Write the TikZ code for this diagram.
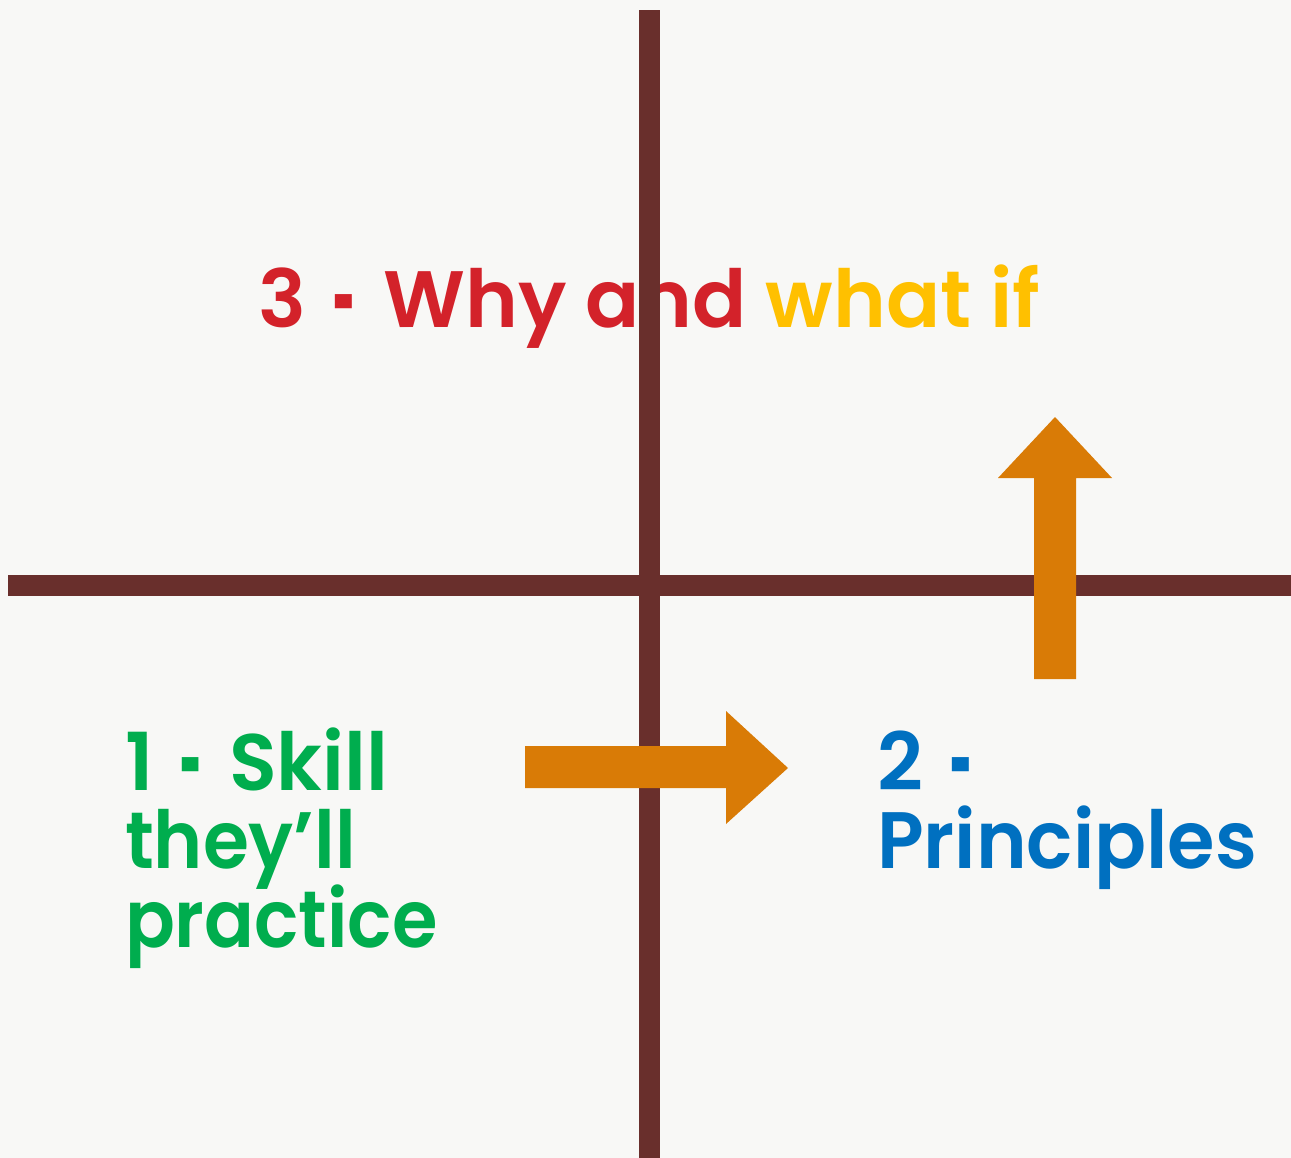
\documentclass[tikz,border=0pt]{standalone}
\usepackage{fontspec}
\setmainfont{Poppins}[BoldFont={Poppins SemiBold}]
\definecolor{paper}{HTML}{F8F8F6}
\definecolor{axis}{HTML}{692F2C}
\definecolor{flow}{HTML}{D97B06}
\definecolor{why}{HTML}{D3222A}
\definecolor{whatif}{HTML}{FFC000}
\definecolor{skill}{HTML}{00AD4E}
\definecolor{principle}{HTML}{0070C0}
% short square hyphen used between number and words, with wide gaps
\newcommand\shortdash{\raisebox{-17pt}{\scalebox{0.5}[1.5]{-}}}
\newcommand\numdash[1]{#1\hspace{27pt}\shortdash\hspace{27pt}}
\newcommand\narrow[2]{\scalebox{#1}[1]{#2}}
\begin{document}
\begin{tikzpicture}[x=1pt,y=-1pt,
  label/.style={anchor=base west, inner sep=0pt, outer sep=0pt,
    font=\fontsize{80}{78}\selectfont\bfseries},
  axisbar/.style={fill=axis},
  flowarrow/.style={fill=flow}]
  % background
  \fill[paper] (0,0) rectangle (1291,1158);
  % top quadrant title (sits under the axis)
  \node[label] (title) at (258,328)
    {\textcolor{why}{\numdash{3}Why and} \textcolor{whatif}{what if}};
  % axes
  \fill[axisbar] (639,10) rectangle (660,1158);
  \fill[axisbar] (8,575) rectangle (1291,596);
  % block arrows
  \fill[flowarrow] (525,746) -- (726,746) -- (726,711) -- (788,768)
    -- (726,824) -- (726,788) -- (525,788) -- cycle;
  \fill[flowarrow] (1034,679) -- (1034,478) -- (998,478) -- (1055,417)
    -- (1112,478) -- (1076,478) -- (1076,679) -- cycle;
  % quadrant labels
  \node[label, text=skill] (s1) at (125,790) {\narrow{0.98}{\numdash{1}Skill}};
  \node[label, text=skill] (s2) at (125,868) {\narrow{0.93}{they’ll}};
  \node[label, text=skill] (s3) at (125,947) {\narrow{0.92}{practice}};
  \node[label, text=principle] (p1) at (877,790) {2\hspace{27pt}\shortdash};
  \node[label, text=principle] (p2) at (877,868) {\narrow{0.96}{Principles}};
\end{tikzpicture}
\end{document}
